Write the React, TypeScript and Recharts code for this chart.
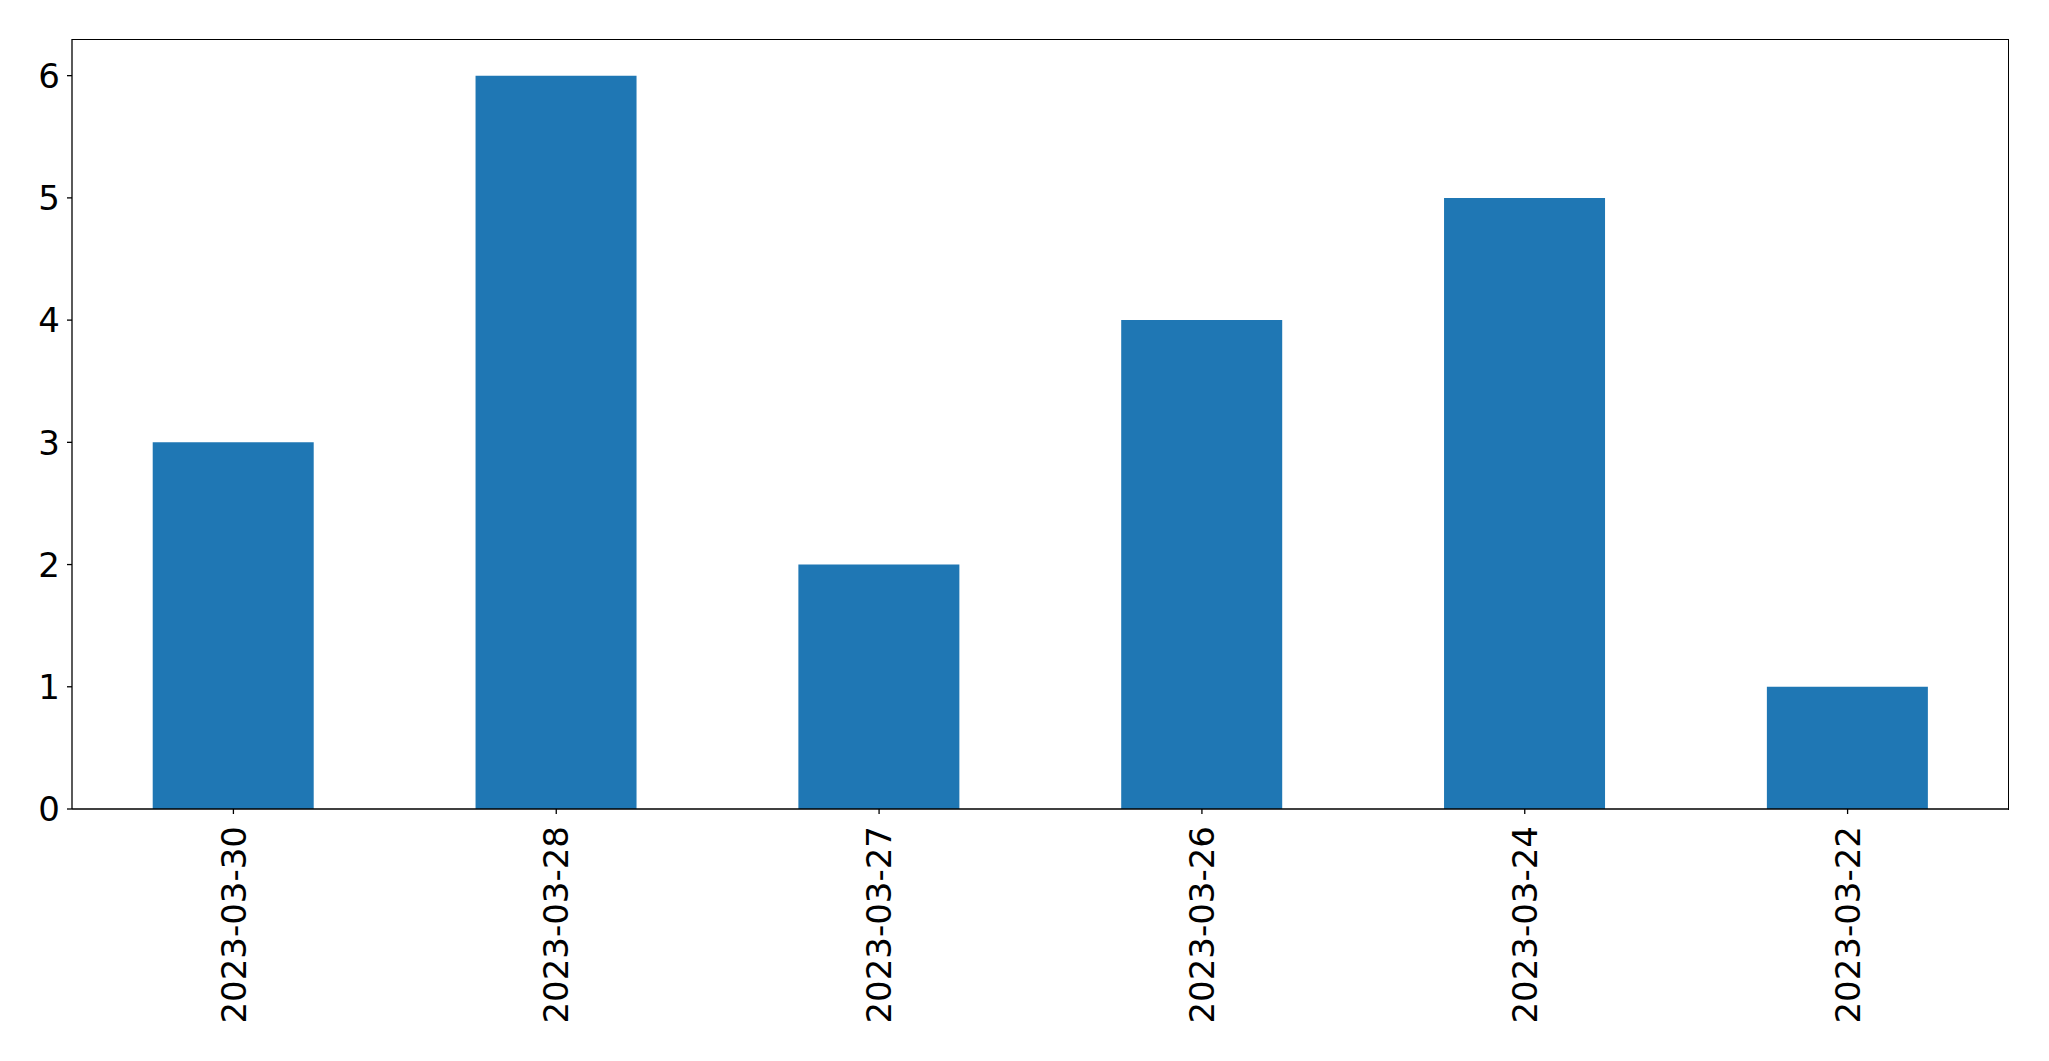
import { BarChart, Bar, XAxis, YAxis, Cell } from "recharts"

const dates = ["2023-03-30", "2023-03-28", "2023-03-27", "2023-03-26", "2023-03-24", "2023-03-22"]
const counts = [3, 6, 2, 4, 5, 1]
const yTicks = [0, 1, 2, 3, 4, 5, 6]

const data = dates.map((d, i) => ({ date: d, count: counts[i] }))

const FONT = "DejaVu Sans"
const FS = 34

function DateTick(props: any) {
  const { x, y, payload } = props
  const ty = y + 10
  return (
    <text
      x={x}
      y={ty}
      transform={`rotate(-90, ${x}, ${ty})`}
      textAnchor="end"
      dy="0.36em"
      style={{ fontFamily: FONT, fontSize: FS, fill: "#000" }}
    >
      {payload.value}
    </text>
  )
}

function CountTick(props: any) {
  const { x, y, payload } = props
  return (
    <text x={x} y={y} textAnchor="end" dy="0.36em" style={{ fontFamily: FONT, fontSize: FS, fill: "#000" }}>
      {payload.value}
    </text>
  )
}

export default function App() {
  return (
    <div style={{ position: "absolute", left: 0, top: 0, width: 2049, height: 1061, background: "#fff" }}>
      <BarChart
        width={2049}
        height={1061}
        data={data}
        margin={{ top: 39, right: 40, left: 0, bottom: 0 }}
        barCategoryGap="25%"
      >
        <XAxis
          dataKey="date"
          height={252}
          axisLine={{ stroke: "#000", strokeWidth: 1.3 }}
          tickLine={{ stroke: "#000", strokeWidth: 1.3 }}
          tickSize={5}
          interval={0}
          tick={<DateTick />}
        />
        <YAxis
          width={72}
          domain={[0, 6.3]}
          ticks={yTicks}
          allowDataOverflow
          axisLine={{ stroke: "#000", strokeWidth: 1.3 }}
          tickLine={{ stroke: "#000", strokeWidth: 1.3 }}
          tickSize={5}
          tickMargin={7}
          tick={<CountTick />}
        />
        <Bar dataKey="count" fill="#1f77b4" isAnimationActive={false}>
          {data.map((_, i) => (
            <Cell key={i} fill="#1f77b4" />
          ))}
        </Bar>
      </BarChart>
      {/* top and right spines */}
      <div
        style={{
          position: "absolute",
          left: 72,
          top: 38.5,
          width: 1937,
          height: 771,
          borderTop: "1.3px solid #000",
          borderRight: "1.3px solid #000",
          boxSizing: "border-box",
          pointerEvents: "none",
        }}
      />
    </div>
  )
}
